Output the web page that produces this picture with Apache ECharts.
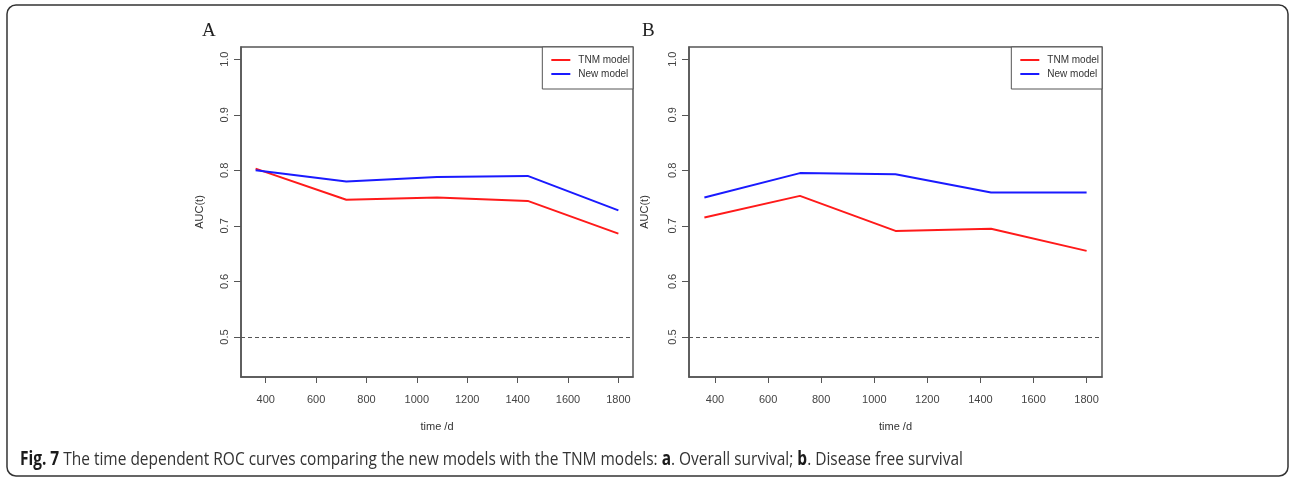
<!DOCTYPE html>
<html>
<head>
<meta charset="utf-8">
<script src="https://cdn.jsdelivr.net/npm/echarts@6/dist/echarts.min.js"></script>
<style>
  html, body { margin: 0; padding: 0; background: #fff; }
  #chart { width: 1290px; height: 478px; }
</style>
</head>
<body>
<div id="chart"></div>
<script>
// Time points (days) and AUC(t) values for each panel
const timesA = [360, 720, 1080, 1440, 1800];
const tnmA   = [0.803, 0.747, 0.751, 0.745, 0.686];
const newA   = [0.800, 0.780, 0.788, 0.790, 0.728];

const timesB = [360, 720, 1080, 1440, 1800];
const tnmB   = [0.715, 0.754, 0.691, 0.695, 0.655];
const newB   = [0.751, 0.795, 0.793, 0.760, 0.760];

const xTicks = [400, 600, 800, 1000, 1200, 1400, 1600, 1800];
const yTicks = [0.5, 0.6, 0.7, 0.8, 0.9, 1.0];
const seriesNames = ['TNM model', 'New model'];
const panelLabels = ['A', 'B'];
const caption = {
  fig: 'Fig. 7',
  text: ' The time dependent ROC curves comparing the new models with the TNM models: ',
  a: 'a', aText: '. Overall survival; ',
  b: 'b', bText: '. Disease free survival'
};

const pair = (xs, ys) => xs.map((x, i) => [x, ys[i]]);

const AX = '#555';
const LBL = '#444';
const FONT = 'Liberation Sans';

const grids = [
  { left: 241, right: 657, top: 47, bottom: 101 },
  { left: 689, right: 188, top: 47, bottom: 101 }
];

function xAxis(i) {
  return {
    type: 'value', gridIndex: i, min: 302, max: 1858,
    name: 'time /d', nameLocation: 'middle', nameGap: 44,
    nameTextStyle: { fontFamily: FONT, fontSize: 11, color: '#333' },
    axisLine: { show: true, lineStyle: { color: AX, width: 1.5 } },
    axisTick: { show: true, length: 6, lineStyle: { color: AX, width: 1 }, customValues: xTicks },
    axisLabel: { fontFamily: FONT, fontSize: 11, color: LBL, margin: 17, customValues: xTicks,
      formatter: v => String(v) },
    splitLine: { show: false }
  };
}
function yAxis(i, gap) {
  return {
    type: 'value', gridIndex: i, min: 0.428, max: 1.022,
    name: 'AUC(t)', nameLocation: 'middle', nameGap: gap, nameRotate: 90,
    nameTextStyle: { fontFamily: FONT, fontSize: 11, color: '#333' },
    axisLine: { show: true, lineStyle: { color: AX, width: 1.5 } },
    axisTick: { show: true, length: 7, lineStyle: { color: AX, width: 1 }, customValues: yTicks },
    axisLabel: { fontFamily: FONT, fontSize: 11, color: LBL, margin: 11, rotate: 90,
      customValues: yTicks, formatter: v => v.toFixed(1) },
    splitLine: { show: false }
  };
}

function lineSeries(name, data, color, idx, withRef) {
  const s = {
    name, type: 'line', xAxisIndex: idx, yAxisIndex: idx,
    data, showSymbol: false, symbol: 'none', silent: true,
    lineStyle: { color, width: 2 }, itemStyle: { color },
    animation: false
  };
  if (withRef) {
    s.markLine = {
      silent: true, symbol: 'none', label: { show: false },
      lineStyle: { color: '#555', width: 1.2, type: [4, 3] },
      data: [{ yAxis: 0.5 }], animation: false
    };
  }
  return s;
}

function legend(right) {
  return {
    orient: 'vertical', right, top: 47,
    data: seriesNames,
    itemWidth: 19, itemHeight: 2, itemGap: 4, icon: 'rect',
    padding: [8, 3, 10, 9],
    borderColor: '#555', borderWidth: 1, backgroundColor: '#fff',
    textStyle: { fontFamily: FONT, fontSize: 10, color: '#333', padding: [0, 0, 0, 3] },
    selectedMode: false
  };
}

const chart = echarts.init(document.getElementById('chart'), null, { renderer: 'canvas' });
chart.setOption({
  animation: false,
  backgroundColor: '#fff',
  grid: grids.map(g => Object.assign({ show: true, borderColor: AX, borderWidth: 1.5 }, g)),
  xAxis: [xAxis(0), xAxis(1)],
  yAxis: [yAxis(0, 36), yAxis(1, 39)],
  legend: [legend(657), legend(188)],
  series: [
    lineSeries(seriesNames[0], pair(timesA, tnmA), '#ff1a1a', 0, true),
    lineSeries(seriesNames[1], pair(timesA, newA), '#1a1aff', 0, false),
    lineSeries(seriesNames[0], pair(timesB, tnmB), '#ff1a1a', 1, true),
    lineSeries(seriesNames[1], pair(timesB, newB), '#1a1aff', 1, false)
  ],
  graphic: [
    { type: 'rect', shape: { x: 7, y: 5, width: 1281, height: 471, r: 9 },
      style: { fill: 'none', stroke: '#333', lineWidth: 1.5 }, silent: true },
    { type: 'text', x: 202, y: 22, style: { text: panelLabels[0], font: '19px "Liberation Serif"', fill: '#222' } },
    { type: 'text', x: 642, y: 22, style: { text: panelLabels[1], font: '19px "Liberation Serif"', fill: '#222' } },
    { type: 'text', x: 20, y: 450, scaleX: 0.814,
      style: {
        text: '{f|' + caption.fig + '}{t|' + caption.text + '}{k|' + caption.a + '}{t|' + caption.aText + '}{k|' + caption.b + '}{t|' + caption.bText + '}',
        rich: {
          f: { fontFamily: 'Open Sans', fontSize: 19, fontWeight: 'bold', fill: '#1a1a1a' },
          k: { fontFamily: 'Open Sans', fontSize: 19, fontWeight: 'bold', fill: '#1a1a1a' },
          t: { fontFamily: 'Open Sans', fontSize: 19, fill: '#333' }
        }
      } }
  ]
});
</script>
</body>
</html>
